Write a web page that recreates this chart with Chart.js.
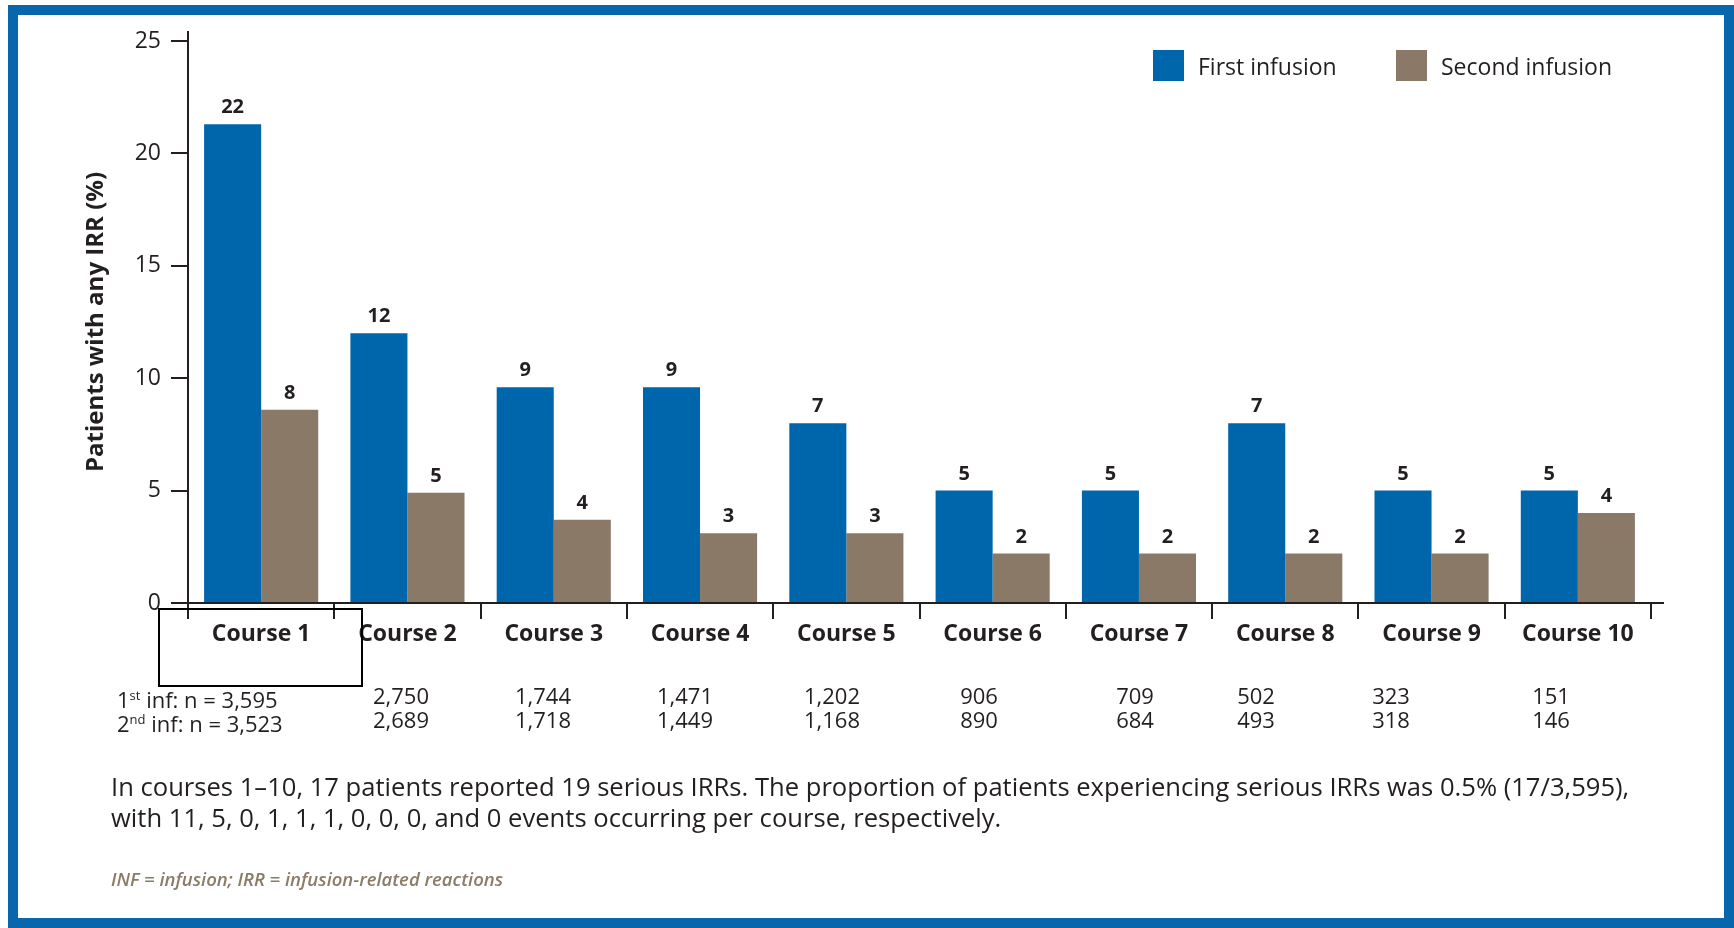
<!DOCTYPE html>
<html>
<head>
<meta charset="utf-8">
<script src="https://cdn.jsdelivr.net/npm/chart.js@4.4.0/dist/chart.umd.min.js"></script>
<style>
    html, body { margin: 0; padding: 0; background: #fff; }
    #wrap { position: relative; width: 1734px; height: 928px; overflow: hidden; font-family: "Open Sans", sans-serif; color: #231f20; }
    #frame { position: absolute; left: 8px; top: 5px; width: 1726px; height: 923px; box-sizing: border-box; border: 10px solid #0866ad; }
    #chart-box { position: absolute; left: 0; top: 0; width: 1734px; height: 928px; }
    .legend-item { position: absolute; top: 50px; height: 31px; display: flex; align-items: center; font-size: 23px; }
    .legend-item span.sw { display: inline-block; width: 31px; height: 31px; margin-right: 14px; }
    .nrow { position: absolute; font-size: 22px; white-space: nowrap; line-height: 30px; }
    .nrow sup { font-size: 13px; }
    .nval { position: absolute; font-size: 22px; line-height: 30px; transform: translateX(-50%); white-space: nowrap; }
    #note { position: absolute; left: 111px; top: 771px; font-size: 25.6px; line-height: 31px; white-space: nowrap; }
    #abbr { position: absolute; left: 111px; top: 866px; font-size: 18.5px; font-style: italic; font-weight: 600; color: #8b7b67; }
    #box { position: absolute; left: 158px; top: 608px; width: 205px; height: 79px; box-sizing: border-box; border: 2px solid #000; }
</style>
</head>
<body>
<div id="wrap">
    <div id="frame"></div>
    <div id="chart-box"><canvas id="irr-chart"></canvas></div>
    <div class="legend-item" style="left:1153px"><span class="sw" style="background:#0066ab"></span>First infusion</div>
    <div class="legend-item" style="left:1396px"><span class="sw" style="background:#8a7966"></span>Second infusion</div>
    <div id="ntable"></div>
    <div id="box"></div>
    <div id="note">In courses 1–10, 17 patients reported 19 serious IRRs. The proportion of patients experiencing serious IRRs was 0.5% (17/3,595),<br>with 11, 5, 0, 1, 1, 1, 0, 0, 0, and 0 events occurring per course, respectively.</div>
    <div id="abbr">INF = infusion; IRR = infusion-related reactions</div>
</div>
<script>
const courses = ['Course 1', 'Course 2', 'Course 3', 'Course 4', 'Course 5', 'Course 6', 'Course 7', 'Course 8', 'Course 9', 'Course 10'];
const firstInfusion = [21.3, 12.0, 9.6, 9.6, 8.0, 5.0, 5.0, 8.0, 5.0, 5.0];
const secondInfusion = [8.6, 4.9, 3.7, 3.1, 3.1, 2.2, 2.2, 2.2, 2.2, 4.0];
const firstLabels = [22, 12, 9, 9, 7, 5, 5, 7, 5, 5];
const secondLabels = [8, 5, 4, 3, 3, 2, 2, 2, 2, 4];
const nFirst = ['3,595', '2,750', '1,744', '1,471', '1,202', '906', '709', '502', '323', '151'];
const nSecond = ['3,523', '2,689', '1,718', '1,449', '1,168', '890', '684', '493', '318', '146'];
const yTicks = [0, 5, 10, 15, 20, 25];

const ink = '#231f20';
const fontFamily = '"Open Sans", sans-serif';

// n counts under the axis (column centres)
const nCentres = [null, 401, 543, 685, 832, 979, 1135, 1256, 1391, 1551];
const ntable = document.getElementById('ntable');
ntable.innerHTML =
    `<div class="nrow" style="left:117px;top:680px">1<sup>st</sup> inf: n = ${nFirst[0]}</div>` +
    `<div class="nrow" style="left:117px;top:704px">2<sup>nd</sup> inf: n = ${nSecond[0]}</div>`;
for (let i = 1; i < courses.length; i++) {
    ntable.innerHTML += `<div class="nval" style="left:${nCentres[i]}px;top:680px">${nFirst[i]}</div>` +
        `<div class="nval" style="left:${nCentres[i]}px;top:704px">${nSecond[i]}</div>`;
}

const valueLabels = {
    id: 'valueLabels',
    afterDatasetsDraw(chart) {
        const ctx = chart.ctx;
        ctx.save();
        ctx.font = `bold 20px ${fontFamily}`;
        ctx.fillStyle = ink;
        ctx.textAlign = 'center';
        ctx.textBaseline = 'alphabetic';
        const printed = [firstLabels, secondLabels];
        chart.data.datasets.forEach((ds, i) => {
            chart.getDatasetMeta(i).data.forEach((bar, j) => {
                ctx.fillText(printed[i][j], bar.x, bar.y - 11);
            });
        });
        ctx.restore();
    }
};

// small axis overhangs seen in the original
const axisExtras = {
    id: 'axisExtras',
    afterDraw(chart) {
        const { ctx, chartArea } = chart;
        ctx.save();
        ctx.strokeStyle = ink;
        ctx.lineWidth = 2;
        ctx.beginPath();
        ctx.moveTo(chartArea.right, chartArea.bottom);
        ctx.lineTo(chartArea.right + 13, chartArea.bottom);
        ctx.moveTo(chartArea.left, chartArea.top);
        ctx.lineTo(chartArea.left, chartArea.top - 10);
        ctx.stroke();
        ctx.restore();
    }
};

new Chart(document.getElementById('irr-chart'), {
    type: 'bar',
    data: {
        labels: courses,
        datasets: [
            { label: 'First infusion', data: firstInfusion, backgroundColor: '#0066ab' },
            { label: 'Second infusion', data: secondInfusion, backgroundColor: '#8a7966' }
        ]
    },
    options: {
        responsive: true,
        maintainAspectRatio: false,
        animation: false,
        datasets: { bar: { categoryPercentage: 0.78, barPercentage: 1 } },
        layout: { padding: { left: 75, top: 41, right: 83, bottom: 20 } },
        plugins: { legend: { display: false }, tooltip: { enabled: false } },
        scales: {
            x: {
                afterFit: s => { s.height = 305; },
                grid: { offset: true, drawOnChartArea: false, tickLength: 16, color: ink, lineWidth: 2 },
                border: { color: ink, width: 2 },
                ticks: { color: ink, padding: 2, font: { family: fontFamily, size: 23, weight: 'bold' } }
            },
            y: {
                min: 0,
                max: 25,
                afterFit: s => { s.width = 113; },
                afterBuildTicks: s => { s.ticks = yTicks.map(v => ({ value: v })); },
                grid: { drawOnChartArea: false, tickLength: 17, color: ink, lineWidth: 2 },
                border: { color: ink, width: 2 },
                ticks: { color: ink, padding: 10, font: { family: fontFamily, size: 23 } },
                title: {
                    display: true,
                    text: 'Patients with any IRR (%)',
                    color: ink,
                    padding: { top: 7 },
                    font: { family: fontFamily, size: 24, weight: 'bold' }
                }
            }
        }
    },
    plugins: [valueLabels, axisExtras]
});
</script>
</body>
</html>
